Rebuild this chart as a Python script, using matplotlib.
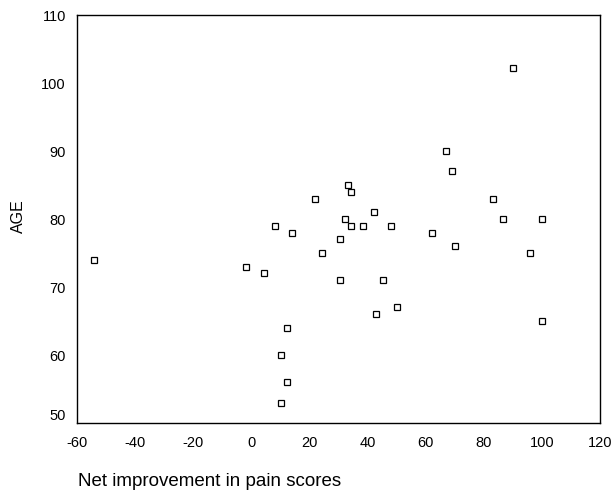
import numpy as np
import matplotlib
matplotlib.use("Agg")
import matplotlib.pyplot as plt

plt.rcParams['font.family'] = ['Liberation Sans', 'DejaVu Sans']
plt.rcParams['axes.unicode_minus'] = False

# net improvement in pain scores vs age
improvement = [-54, -1.7, 4.4, 8.1, 14.1, 22, 24.4, 30.4, 30.4, 32.3, 33.3,
               34.2, 34.2, 38.3, 42.1, 43, 45.4, 48.1, 50, 62.2, 67.1, 69.1,
               70.1, 83.1, 86.7, 90, 96, 99.8, 100.1, 12.3, 10.3, 12.3, 10.3]
age = [74, 73, 72, 79, 78, 83, 75, 77, 71, 80, 85,
       84, 79, 79, 81, 66, 71, 79, 67, 78, 90, 87,
       76, 83, 80, 102.2, 75, 80, 65, 64, 60, 56, 53]

xticks = [-60, -40, -20, 0, 20, 40, 60, 80, 100, 120]
yticks = [50, 60, 70, 80, 90, 100, 110]

fig = plt.figure(figsize=(6.15, 4.92), dpi=100)
ax = fig.add_axes([0.125, 0.140, 0.851, 0.8295])

ax.plot(improvement, age, linestyle='none', marker='s', ms=4.6,
        mfc='white', mec='black', mew=0.9)

ax.set_xlim(-60, 120)
ax.set_ylim(50, 110)
ax.set_xticks(xticks)
ax.set_yticks(yticks)
ax.tick_params(length=0, labelsize=10.5, colors='black')
ax.tick_params(axis='x', pad=9)
ax.tick_params(axis='y', pad=8)
for s in ax.spines.values():
    s.set_linewidth(1.0)
    s.set_color('black')
# lowest y label sits just above the bottom axis line
ax.get_yticklabels()[0].set_va('bottom')

fig.text(18 / 615, 1 - 216 / 492, 'AGE', fontsize=11.5, rotation=90,
         ha='center', va='center')
fig.text(78 / 615, 1 - 482 / 492, 'Net improvement in pain scores',
         fontsize=13.5, ha='left', va='center')

fig.savefig('out.png', dpi=100)
